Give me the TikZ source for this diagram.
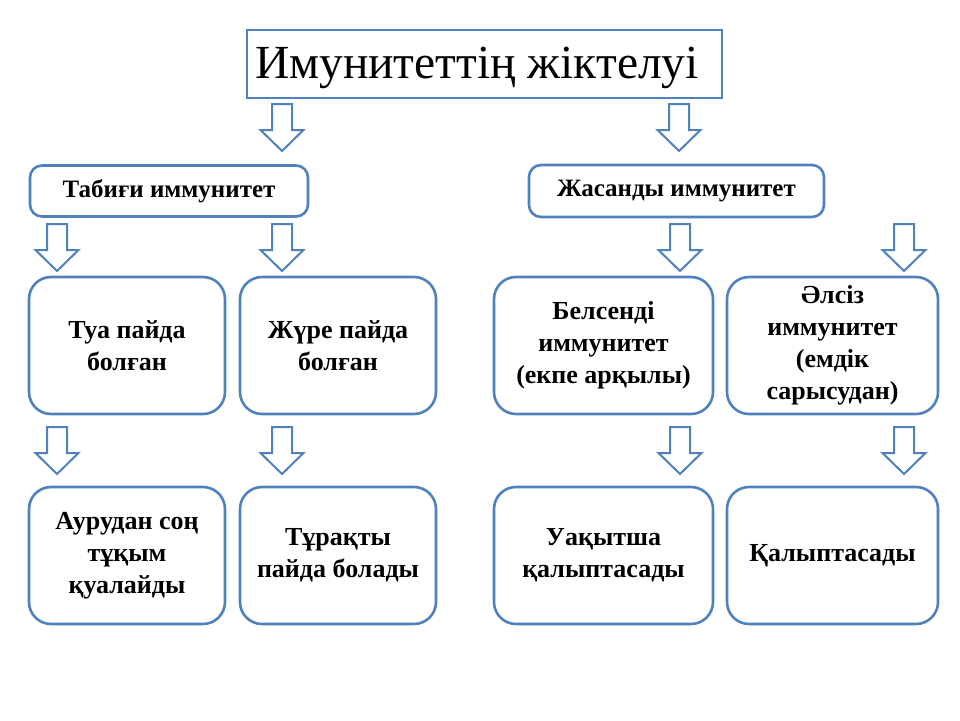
\documentclass[tikz,border=0pt]{standalone}
\usepackage{fontspec}
\setmainfont{Liberation Serif}
\definecolor{ofblue}{RGB}{79,129,189}
\begin{document}
\begin{tikzpicture}[x=1pt,y=-1pt,
  box/.style={draw=ofblue, line width=2.6pt, fill=white, rounded corners=22pt,
    align=center, font=\bfseries\fontsize{26}{32}\selectfont, inner sep=2pt},
  catbox/.style={draw=ofblue, line width=2.6pt, fill=white, rounded corners=12pt,
    align=center, font=\bfseries\fontsize{25}{28}\selectfont, inner sep=2pt},
  arrowline/.style={draw=ofblue, line width=2pt, fill=white, line join=miter},
  barrow/.pic={\path[arrowline] (-10,0) -- (10,0) -- (10,26) -- (21.5,26) -- (0,47) -- (-21.5,26) -- (-10,26) -- cycle;}
]
\useasboundingbox (0,0) rectangle (960,720);
% title
\node[draw=ofblue, line width=2.6pt, minimum width=475pt, minimum height=68pt,
  inner sep=0pt, font=\fontsize{47.5}{56}\selectfont]
  (title) at (484.5,64) {\makebox[459pt][l]{\rule[-10pt]{0pt}{50pt}Имунитеттің жіктелуі}};
% arrows under title
\pic at (282,104) {barrow};
\pic at (679,104) {barrow};
% category boxes
\node[catbox, minimum width=278pt, minimum height=51pt] (tab) at (169,191) {Табиғи иммунитет};
\node[catbox, minimum width=295pt, minimum height=52pt] (jas) at (676.5,191) {Жасанды иммунитет};
% arrows row 2
\pic at (57,224) {barrow};
\pic at (282,224) {barrow};
\pic at (680,224) {barrow};
\pic at (904,224) {barrow};
% row 2 boxes
\node[box, minimum width=196pt, minimum height=137pt] (tua) at (127,345.5) {Туа пайда\\болған};
\node[box, minimum width=196pt, minimum height=137pt] (jure) at (338,345.5) {Жүре пайда\\болған};
\node[box, minimum width=219pt, minimum height=137pt] (bel) at (603.5,345.5) {Белсенді\\иммунитет\\(екпе арқылы)};
\node[box, minimum width=211pt, minimum height=137pt] (als) at (832.5,345.5) {Әлсіз\\иммунитет\\(емдік\\сарысудан)};
% arrows row 3
\pic at (57,427) {barrow};
\pic at (282,427) {barrow};
\pic at (680,427) {barrow};
\pic at (904,427) {barrow};
% row 3 boxes
\node[box, minimum width=196pt, minimum height=137pt] (aur) at (127,555.5) {Аурудан соң\\тұқым\\қуалайды};
\node[box, minimum width=196pt, minimum height=137pt] (tur) at (338,555.5) {Тұрақты\\пайда болады};
\node[box, minimum width=219pt, minimum height=137pt] (uaq) at (603.5,555.5) {Уақытша\\қалыптасады};
\node[box, minimum width=211pt, minimum height=137pt] (qal) at (832.5,555.5) {Қалыптасады};
\end{tikzpicture}
\end{document}
